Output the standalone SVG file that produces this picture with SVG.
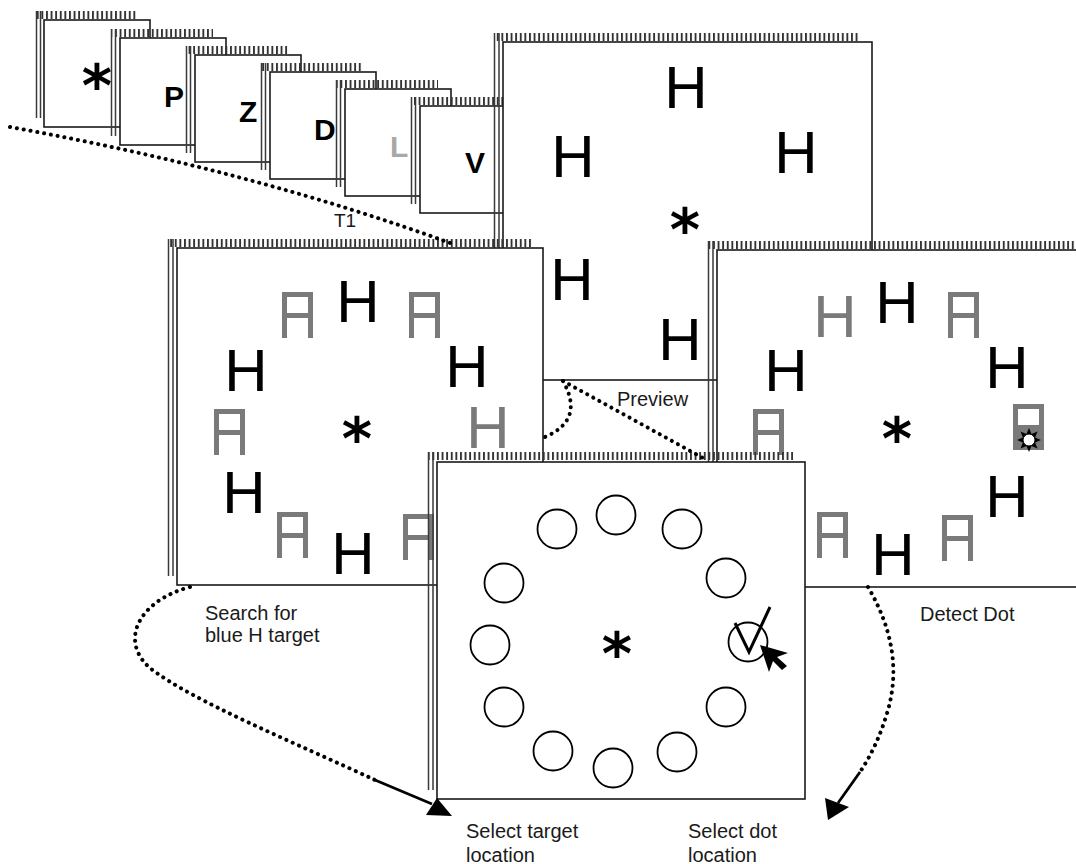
<svg xmlns="http://www.w3.org/2000/svg" xmlns:xlink="http://www.w3.org/1999/xlink" width="1076" height="864" viewBox="0 0 1076 864">
<defs>
<pattern id="hatch" x="0" y="0" width="4.6" height="10" patternUnits="userSpaceOnUse"><rect width="1.9" height="10" fill="#333"/></pattern>
<symbol id="dA" viewBox="0 0 31 46" overflow="visible"><path d="M2.5,46 V2.5 H28.5 V46 M2.5,23.5 H28.5" fill="none" stroke="#7a7a7a" stroke-width="5"/></symbol>
<style>
.card{fill:#fff;stroke:#1a1a1a;stroke-width:1.6}
.hatch{fill:url(#hatch)}
.edge{stroke:#3a3a3a;stroke-width:1.5;fill:none}
.big{font-family:"Liberation Sans",Arial,sans-serif;font-size:60px;fill:#000;text-anchor:middle}
.bigg{font-family:"Liberation Sans",Arial,sans-serif;font-size:60px;fill:#7a7a7a;text-anchor:middle}
.ast{font-family:"DejaVu Sans",sans-serif;font-size:58px;font-weight:bold;fill:#000;text-anchor:middle}
.sm{font-family:"Liberation Sans",Arial,sans-serif;font-size:30px;font-weight:bold;fill:#000}
.lbl{font-family:"Liberation Sans",Arial,sans-serif;font-size:20px;fill:#1a1a1a}
.dot{fill:none;stroke:#000;stroke-width:4;stroke-dasharray:0.1 6.8;stroke-linecap:round}
.solid{fill:none;stroke:#000;stroke-width:2.8}
.circ{fill:none;stroke:#000;stroke-width:1.8}
</style>
</defs>
<rect width="1076" height="864" fill="#fff"/>

<g id="card-star">
<rect class="hatch" x="36" y="11" width="102" height="8"/>
<path class="edge" d="M36.5,11 V118 M40.5,11 V118"/>
<rect class="card" x="44" y="20" width="106" height="107"/>
<text class="ast" x="97" y="106">*</text>
</g>
<g id="card-P">
<rect class="hatch" x="111" y="29" width="102" height="8"/>
<path class="edge" d="M111.5,29 V136 M115.5,29 V136"/>
<rect class="card" x="120" y="38" width="106" height="107"/>
<text class="sm" x="164" y="107">P</text>
</g>
<g id="card-Z">
<rect class="hatch" x="186" y="46" width="102" height="8"/>
<path class="edge" d="M186.5,46 V153 M190.5,46 V153"/>
<rect class="card" x="195" y="55" width="106" height="107"/>
<text class="sm" x="239" y="122">Z</text>
</g>
<g id="card-D">
<rect class="hatch" x="261" y="63" width="102" height="8"/>
<path class="edge" d="M261.5,63 V170 M265.5,63 V170"/>
<rect class="card" x="270" y="72" width="106" height="107"/>
<text class="sm" x="314" y="140">D</text>
</g>
<g id="card-L">
<rect class="hatch" x="336" y="80" width="102" height="8"/>
<path class="edge" d="M336.5,80 V187 M340.5,80 V187"/>
<rect class="card" x="345" y="89" width="106" height="107"/>
<text class="sm" x="390" y="157" style="fill:#a8a8a8">L</text>
</g>
<g id="card-V">
<rect class="hatch" x="411" y="97" width="102" height="8"/>
<path class="edge" d="M411.5,97 V204 M415.5,97 V204"/>
<rect class="card" x="420" y="106" width="106" height="107"/>
<text class="sm" x="465" y="173">V</text>
</g>

<g id="card-preview">
<rect class="hatch" x="494" y="33" width="366" height="8"/>
<path class="edge" d="M494.5,33 V371 M499,33 V371"/>
<rect class="card" x="503" y="42" width="369" height="338"/>
<text class="big" x="686" y="108">H</text>
<text class="big" x="573" y="177">H</text>
<text class="big" x="796" y="173">H</text>
<text class="ast" x="685" y="250">*</text>
<text class="big" x="572" y="300">H</text>
<text class="big" x="680" y="360">H</text>
<text class="lbl" x="617" y="406">Preview</text>
</g>

<g id="card-search">
<rect class="hatch" x="168" y="239" width="365" height="8"/>
<path class="edge" d="M168.5,239 V576 M173,239 V576"/>
<rect class="card" x="177" y="248" width="366" height="337"/>
<use href="#dA" x="282" y="292" width="31" height="46"/>
<text class="big" x="358" y="322">H</text>
<use href="#dA" x="409" y="292" width="31" height="46"/>
<text class="big" x="246" y="391">H</text>
<text class="big" x="467" y="387">H</text>
<use href="#dA" x="214" y="409" width="31" height="46"/>
<text class="ast" x="357" y="459">*</text>
<text class="bigg" x="488" y="448">H</text>
<text class="big" x="244" y="513">H</text>
<use href="#dA" x="277" y="512" width="31" height="46"/>
<text class="big" x="353" y="574">H</text>
<use href="#dA" x="403" y="514" width="31" height="46"/>
<text class="lbl" x="205" y="620">Search for</text>
<text class="lbl" x="205" y="642">blue H target</text>
</g>

<g id="card-detect">
<rect class="hatch" x="708" y="241" width="368" height="8"/>
<path class="edge" d="M708.5,241 V578 M713,241 V578"/>
<rect class="card" x="717" y="250" width="380" height="337"/>
<text class="bigg" x="835" y="337">H</text>
<text class="big" x="897" y="323">H</text>
<use href="#dA" x="948" y="292" width="31" height="46"/>
<text class="big" x="786" y="391">H</text>
<text class="big" x="1007" y="388">H</text>
<use href="#dA" x="753" y="409" width="31" height="46"/>
<text class="ast" x="897" y="459">*</text>
<g id="probe">
<use href="#dA" x="1013" y="404" width="31" height="46"/>
<rect x="1013" y="427" width="31" height="23" fill="#7a7a7a"/>
<polygon transform="translate(1029,440) scale(1.2)" points="10,0 5.08,2.1 7.07,7.07 2.1,5.08 0,10 -2.1,5.08 -7.07,7.07 -5.08,2.1 -10,0 -5.08,-2.1 -7.07,-7.07 -2.1,-5.08 0,-10 2.1,-5.08 7.07,-7.07 5.08,-2.1" fill="#000"/>
<circle cx="1029" cy="440" r="6" fill="#fff" stroke="#000" stroke-width="1"/>
</g>
<text class="big" x="1007" y="517">H</text>
<use href="#dA" x="817" y="512" width="31" height="46"/>
<text class="big" x="893" y="575">H</text>
<use href="#dA" x="942" y="515" width="31" height="46"/>
<text class="lbl" x="920" y="621">Detect Dot</text>
</g>

<g id="card-select">
<rect class="hatch" x="428" y="452" width="365" height="8"/>
<path class="edge" d="M428.5,452 V790 M433,452 V790"/>
<rect class="card" x="437" y="462" width="368" height="337"/>
<circle class="circ" cx="557" cy="529" r="19.5"/>
<circle class="circ" cx="616" cy="515" r="19.5"/>
<circle class="circ" cx="682" cy="529" r="19.5"/>
<circle class="circ" cx="726" cy="578" r="19.5"/>
<circle class="circ" cx="748" cy="642" r="19.5"/>
<circle class="circ" cx="726" cy="707" r="19.5"/>
<circle class="circ" cx="677" cy="752" r="19.5"/>
<circle class="circ" cx="613" cy="768" r="19.5"/>
<circle class="circ" cx="553" cy="751" r="19.5"/>
<circle class="circ" cx="504" cy="707" r="19.5"/>
<circle class="circ" cx="490" cy="645" r="19.5"/>
<circle class="circ" cx="504" cy="583" r="19.5"/>
<text class="ast" x="617" y="674">*</text>
<polyline points="735,623 749,652 770,607" fill="none" stroke="#000" stroke-width="3"/>
<polygon points="760,645 788,653 777,657 787,666 782,670 773,661 769,672" fill="#000"/>
<text class="lbl" x="466" y="838">Select target</text>
<text class="lbl" x="466" y="862">location</text>
<text class="lbl" x="688" y="838">Select dot</text>
<text class="lbl" x="688" y="862">location</text>
</g>

<g id="connectors">
<path class="dot" d="M10,127 Q250,170 453,244"/>
<text class="lbl" x="334" y="227" style="font-size:19px">T1</text>
<path class="dot" d="M563,381 Q585,420 545,437"/>
<path class="dot" d="M563,381 L703,458"/>
<path class="dot" d="M190,587 C140,600 118,640 150,668 C190,700 300,745 375,780"/>
<path class="solid" d="M375,780 L432,804"/>
<polygon points="437,798 452,816 426,815" fill="#000"/>
<path class="dot" d="M868,587 Q905,650 888,710 Q878,745 860,772"/>
<path class="solid" d="M860,772 L838,803"/>
<polygon points="828,820 825,798 849,807" fill="#000"/>
</g>
</svg>
